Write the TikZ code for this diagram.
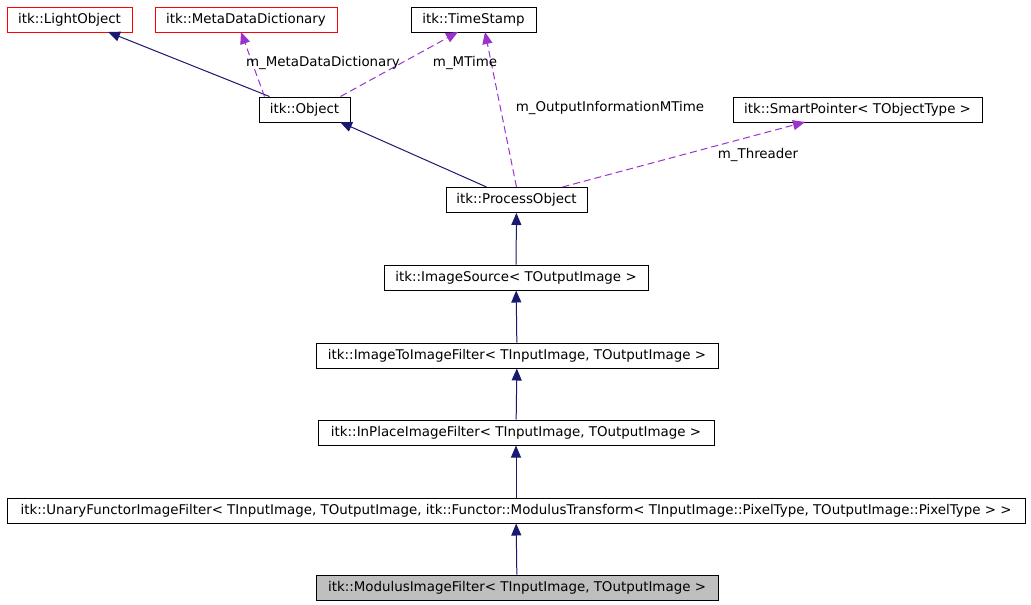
\documentclass[tikz,border=0pt]{standalone}
\usepackage{fontspec}
\setmainfont{DejaVu Sans}
\usetikzlibrary{arrows.meta}
\definecolor{edgeblue}{RGB}{25,25,112}
\definecolor{usepurple}{RGB}{154,50,205}
\begin{document}
\begin{tikzpicture}
[x=1pt,y=-1pt,line width=1pt,every node/.style={draw,rectangle,inner sep=0pt,font=\fontsize{13.4}{16}\selectfont}]
  \useasboundingbox (0,0) rectangle (1031,605);
  \tikzset{cls/.style={minimum height=25pt},
    miss/.style={cls,draw=red},
    inh/.style={draw=edgeblue,-{Triangle[length=12pt,width=10pt]},fill=none},
    use/.style={draw=usepurple,dash pattern=on 7pt off 4pt,-{Triangle[length=12pt,width=10pt]}},
    lbl/.style={draw=none,fill=none}}
  \node[miss,minimum width=125pt] (light) at (69.5,19.5) {itk::LightObject};
  \node[miss,minimum width=182pt] (meta) at (246,19.5) {itk::MetaDataDictionary};
  \node[cls,minimum width=125pt] (stamp) at (473.5,19.5) {itk::TimeStamp};
  \node[cls,minimum width=91pt] (object) at (304.5,109.5) {itk::Object};
  \node[cls,minimum width=249pt] (smart) at (857.5,109.5) {itk::SmartPointer< TObjectType >};
  \node[cls,minimum width=141pt] (process) at (516.5,200) {itk::ProcessObject};
  \node[cls,minimum width=264pt] (source) at (516,277.5) {itk::ImageSource< TOutputImage >};
  \node[cls,minimum width=402pt] (i2i) at (517,355.5) {itk::ImageToImageFilter< TInputImage, TOutputImage >};
  \node[cls,minimum width=396pt] (inplace) at (516,432.5) {itk::InPlaceImageFilter< TInputImage, TOutputImage >};
  \node[cls,minimum width=1018pt] (unary) at (516,510.5) {itk::UnaryFunctorImageFilter< TInputImage, TOutputImage, itk::Functor::ModulusTransform< TInputImage::PixelType, TOutputImage::PixelType > >};
  \node[cls,minimum width=402pt,fill={rgb,255:red,191;green,191;blue,191}] (modulus) at (517,587.5) {itk::ModulusImageFilter< TInputImage, TOutputImage >};
  \draw[inh] (object.north west) ++(11,0) -- (108,32);
  \draw[use] (object.north west) ++(6,0) -- (241,32);
  \draw[use] (object.north east) ++(-10,0) -- (458,32);
  \draw[inh] (process.north west) ++(41,0) -- (340,122);
  \draw[use] (process.north) -- (485,32);
  \draw[use] (process.north east) ++(-25,0) -- (805,122);
  \foreach \from/\to in {source/process, i2i/source, inplace/i2i, unary/inplace, modulus/unary}
    \draw[inh] (\from) -- (\to);
  \node[lbl] at (323,63) {m\_MetaDataDictionary};
  \node[lbl] at (465,63) {m\_MTime};
  \node[lbl] at (610,108) {m\_OutputInformationMTime};
  \node[lbl] at (758,155) {m\_Threader};
\end{tikzpicture}
\end{document}
